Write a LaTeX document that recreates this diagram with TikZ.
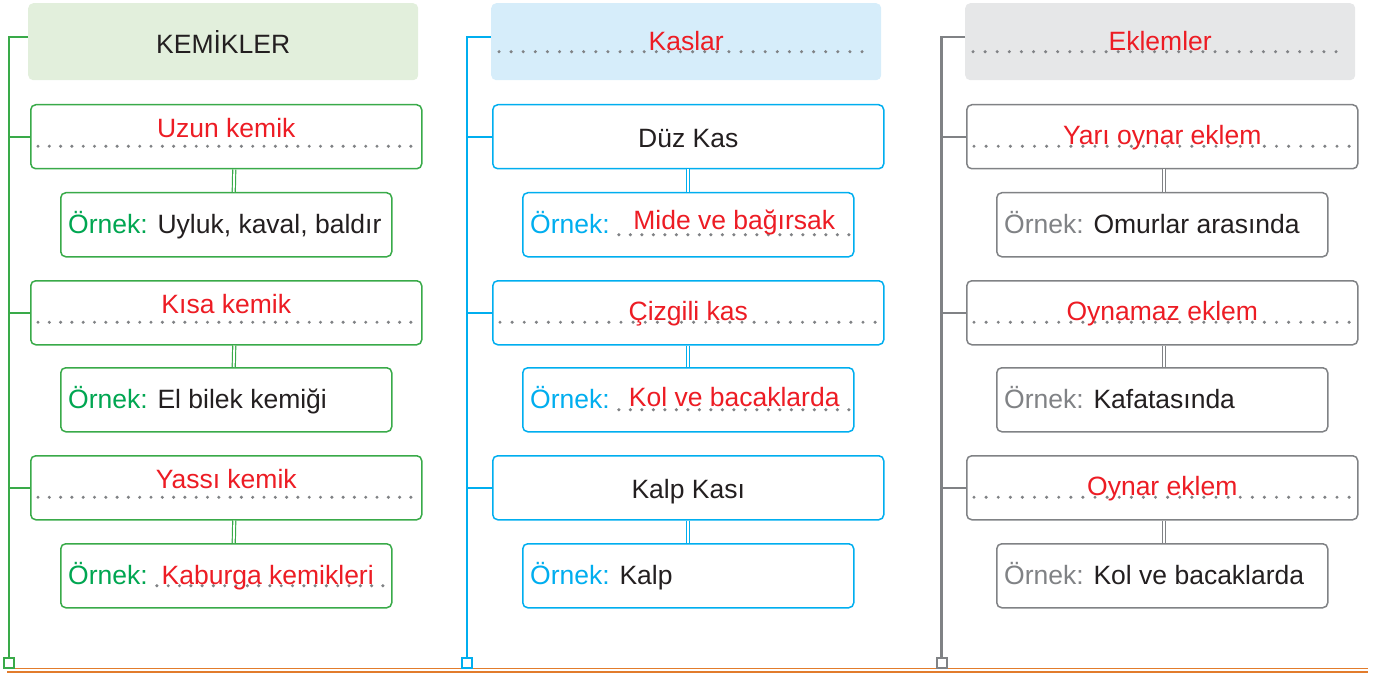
\documentclass[tikz,border=0pt]{standalone}
\usepackage{fontspec}
\setmainfont{Liberation Sans}
\usetikzlibrary{calc,decorations.markings}
\definecolor{cgreen}{RGB}{57,170,73}
\definecolor{tgreen}{RGB}{0,166,81}
\definecolor{cblue}{RGB}{0,174,239}
\definecolor{cgray}{RGB}{128,130,133}
\definecolor{cred}{RGB}{237,28,36}
\definecolor{cblack}{RGB}{35,31,32}
\definecolor{hgreen}{RGB}{226,239,220}
\definecolor{hblue}{RGB}{214,237,250}
\definecolor{hgray}{RGB}{230,231,232}
\definecolor{corange}{RGB}{226,124,44}
\newcommand{\lab}{\fontsize{26.5}{30}\selectfont}
\newcommand{\orn}[1]{\textcolor{#1}{Örnek:}}
\tikzset{
  hdrbox/.style={rectangle, rounded corners=5pt, minimum width=390pt, minimum height=77pt, inner sep=0pt, anchor=north west},
  grpbox/.style={draw, rectangle, rounded corners=5pt, line width=1.5pt, fill=white, minimum width=391pt, minimum height=64pt, inner sep=0pt, anchor=north west},
  exbox/.style={grpbox, minimum width=331pt},
  dotline/.style={decoration={markings, mark=between positions 0 and 1 step #1 with {\fill[cgray] (0,0) circle (1.7pt);}}, postaction=decorate},
  dotline/.default=12.1pt,
  link/.style={double=white, double distance=1.8pt, line width=1.2pt},
  stem/.style={line width=2.2pt},
  endsq/.style={draw, line width=2pt, fill=white, minimum size=10pt, inner sep=0pt},
  redtxt/.style={text=cred, font=\lab, inner sep=0pt, anchor=base},
  blktxt/.style={text=cblack, font=\lab, inner sep=0pt, anchor=base},
  extxt/.style={text=cblack, font=\lab, inner sep=0pt, anchor=base west}
}

\begin{document}
\begin{tikzpicture}[x=1pt,y=-1pt]
\useasboundingbox (0,0) rectangle (1385,674);

% bottom rule
\coordinate (rl) at (7,668.7);
\coordinate (rr) at (1368,668.7);
\draw[corange, line width=1.3pt] (rl) -- (rr);
\draw[corange, line width=2.4pt] ([yshift=-3.4pt]rl) -- ([yshift=-3.4pt]rr);

% ---------- KEMIKLER ----------
\node[hdrbox, fill=hgreen] (kh) at (28,3) {};
\node[grpbox, draw=cgreen] (u1) at (30,104) {};
\node[exbox, draw=cgreen] (e1) at (60,192) {};
\node[grpbox, draw=cgreen] (u2) at (30,280) {};
\node[exbox, draw=cgreen] (e2) at (60,367) {};
\node[grpbox, draw=cgreen] (u3) at (30,455) {};
\node[exbox, draw=cgreen] (e3) at (60,543) {};
\node[endsq, draw=cgreen] (ksq) at (8.7,662.5) {};
\draw[stem, cgreen] ([yshift=5pt]kh.west) -| (ksq.north);
\foreach \b in {u1,u2,u3}
  \draw[stem, cgreen] (\b.west) -- (\b.west -| ksq);
\draw[link, cgreen] ($(u1.south)+(8,0)$) -- ($(e1.north)+(7.5,0)$);
\draw[link, cgreen] ($(u2.south)+(8,0)$) -- ($(e2.north)+(7.5,0)$);
\draw[link, cgreen] ($(u3.south)+(8,0)$) -- ($(e3.north)+(7.5,0)$);

\node[blktxt] (kht) at ([yshift=-11.5pt]kh.center) {KEMİKLER};
\path[dotline=11.3pt] ([xshift=8pt,yshift=-9.5pt]u1.west) -- node[redtxt, yshift=8.5pt] (u1t) {Uzun kemik} ([xshift=-8pt,yshift=-9.5pt]u1.east);
\node[extxt] (e1t) at ([xshift=8pt,yshift=-9pt]e1.west) {\orn{tgreen} Uyluk, kaval, baldır};
\path[dotline=11.3pt] ([xshift=8pt,yshift=-9.5pt]u2.west) -- node[redtxt, yshift=8.5pt] (u2t) {Kısa kemik} ([xshift=-8pt,yshift=-9.5pt]u2.east);
\node[extxt] (e2t) at ([xshift=8pt,yshift=-9pt]e2.west) {\orn{tgreen} El bilek kemiği};
\path[dotline=11.3pt] ([xshift=8pt,yshift=-9.5pt]u3.west) -- node[redtxt, yshift=8.5pt] (u3t) {Yassı kemik} ([xshift=-8pt,yshift=-9.5pt]u3.east);
\node[extxt] (e3o) at ([xshift=8pt,yshift=-9pt]e3.west) {\orn{tgreen}};
\coordinate (e3a) at ([xshift=9pt,yshift=-1pt]e3o.base east);
\coordinate (e3b) at ([xshift=-6pt]e3.east);
\path[dotline=11.3pt] (e3a) -- node[redtxt, xshift=-4pt, yshift=1pt] (e3t) {Kaburga kemikleri} (e3a -| e3b);

% ---------- KASLAR ----------
\node[hdrbox, fill=hblue] (mh) at (491,3) {};
\node[grpbox, draw=cblue] (d1) at (492,104) {};
\node[exbox, draw=cblue] (f1) at (522,192) {};
\node[grpbox, draw=cblue] (d2) at (492,280) {};
\node[exbox, draw=cblue] (f2) at (522,367) {};
\node[grpbox, draw=cblue] (d3) at (492,455) {};
\node[exbox, draw=cblue] (f3) at (522,543) {};
\node[endsq, draw=cblue] (msq) at (467,662.5) {};
\draw[stem, cblue] ([yshift=5pt]mh.west) -| (msq.north);
\foreach \b in {d1,d2,d3}
  \draw[stem, cblue] (\b.west) -- (\b.west -| msq);
\draw[link, cblue] (d1.south) -- (f1.north);
\draw[link, cblue] (d2.south) -- (f2.north);
\draw[link, cblue] (d3.south) -- (f3.north);

\path[dotline] ([xshift=8pt,yshift=-10pt]mh.west) -- node[redtxt, yshift=1.5pt] (mht) {Kaslar} ([xshift=-8pt,yshift=-10pt]mh.east);
\node[blktxt] (d1t) at ([yshift=-10.5pt]d1.center) {Düz Kas};
\node[extxt] (f1o) at ([xshift=8pt,yshift=-9pt]f1.west) {\orn{cblue}};
\coordinate (f1a) at ([xshift=9pt,yshift=-1pt]f1o.base east);
\coordinate (f1b) at ([xshift=-5pt]f1.east);
\path[dotline=11.5pt] (f1a) -- node[redtxt, yshift=5pt] (f1t) {Mide ve bağırsak} (f1a -| f1b);
\path[dotline] ([xshift=8pt,yshift=-9.5pt]d2.west) -- node[redtxt, yshift=1.5pt] (d2t) {Çizgili kas} ([xshift=-8pt,yshift=-9.5pt]d2.east);
\node[extxt] (f2o) at ([xshift=8pt,yshift=-9pt]f2.west) {\orn{cblue}};
\coordinate (f2a) at ([xshift=9pt,yshift=-1pt]f2o.base east);
\coordinate (f2b) at ([xshift=-5pt]f2.east);
\path[dotline=11.5pt] (f2a) -- node[redtxt, yshift=3pt] (f2t) {Kol ve bacaklarda} (f2a -| f2b);
\node[blktxt] (d3t) at ([yshift=-10.5pt]d3.center) {Kalp Kası};
\node[extxt] (f3t) at ([xshift=8pt,yshift=-9pt]f3.west) {\orn{cblue} Kalp};

% ---------- EKLEMLER ----------
\node[hdrbox, fill=hgray] (ah) at (965,3) {};
\node[grpbox, draw=cgray] (y1) at (966,104) {};
\node[exbox, draw=cgray] (z1) at (996,192) {};
\node[grpbox, draw=cgray] (y2) at (966,280) {};
\node[exbox, draw=cgray] (z2) at (996,367) {};
\node[grpbox, draw=cgray] (y3) at (966,455) {};
\node[exbox, draw=cgray] (z3) at (996,543) {};
\node[endsq, draw=cgray] (asq) at (941.5,662.5) {};
\draw[stem, cgray] ([yshift=5pt]ah.west) -| (asq.north);
\foreach \b in {y1,y2,y3}
  \draw[stem, cgray] (\b.west) -- (\b.west -| asq);
\draw[link, cgray] ($(y1.south)+(1.5,0)$) -- ($(z1.north)+(1.5,0)$);
\draw[link, cgray] ($(y2.south)+(1.5,0)$) -- ($(z2.north)+(1.5,0)$);
\draw[link, cgray] ($(y3.south)+(1.5,0)$) -- ($(z3.north)+(1.5,0)$);

\path[dotline] ([xshift=8pt,yshift=-10pt]ah.west) -- node[redtxt, yshift=1.5pt] (aht) {Eklemler} ([xshift=-8pt,yshift=-10pt]ah.east);
\path[dotline] ([xshift=8pt,yshift=-9.5pt]y1.west) -- node[redtxt, yshift=1.5pt] (y1t) {Yarı oynar eklem} ([xshift=-8pt,yshift=-9.5pt]y1.east);
\node[extxt] (z1t) at ([xshift=8pt,yshift=-9pt]z1.west) {\orn{cgray} Omurlar arasında};
\path[dotline] ([xshift=8pt,yshift=-9.5pt]y2.west) -- node[redtxt, yshift=1.5pt] (y2t) {Oynamaz eklem} ([xshift=-8pt,yshift=-9.5pt]y2.east);
\node[extxt] (z2t) at ([xshift=8pt,yshift=-9pt]z2.west) {\orn{cgray} Kafatasında};
\path[dotline] ([xshift=8pt,yshift=-9.5pt]y3.west) -- node[redtxt, yshift=1.5pt] (y3t) {Oynar eklem} ([xshift=-8pt,yshift=-9.5pt]y3.east);
\node[extxt] (z3t) at ([xshift=8pt,yshift=-9pt]z3.west) {\orn{cgray} Kol ve bacaklarda};
\end{tikzpicture}
\end{document}
